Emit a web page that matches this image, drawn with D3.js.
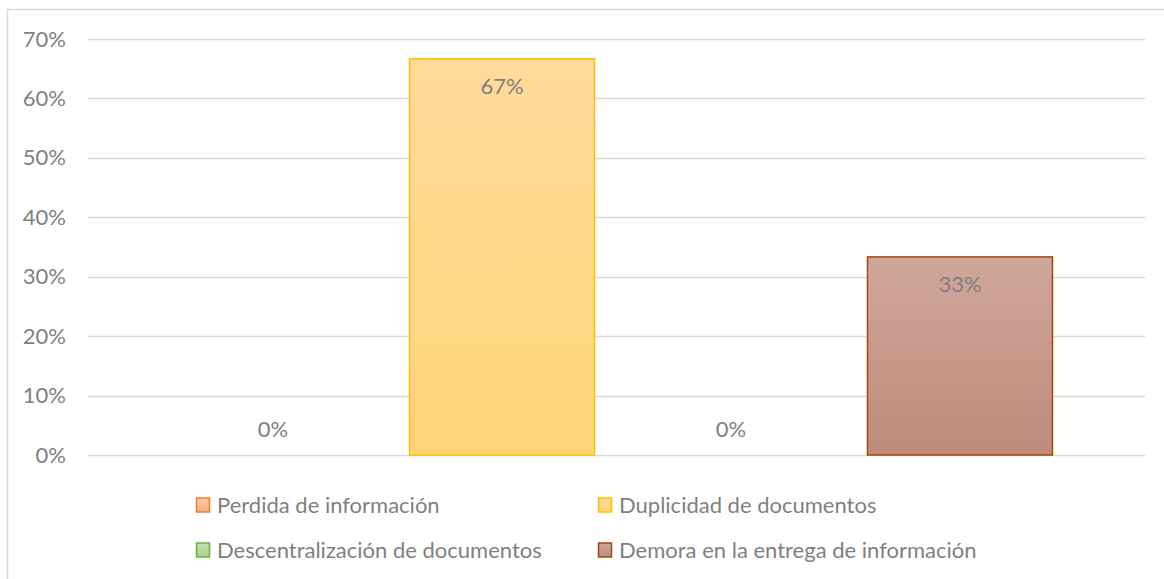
<!DOCTYPE html>
<html>
<head>
<meta charset="utf-8">
<script src="https://cdn.jsdelivr.net/npm/d3@7"></script>
<style>
  html, body { margin: 0; padding: 0; background: #fff; }
  svg { display: block; font-family: Lato, "Open Sans", sans-serif; }
</style>
</head>
<body>
<svg id="chart" width="1164" height="579"></svg>
<script>
// chart data
const series = ["Perdida de información", "Duplicidad de documentos", "Descentralización de documentos", "Demora en la entrega de información"];
const values = [0, 0.6667, 0, 0.3333];
const labels = ["0%", "67%", "0%", "33%"];
const yTicks = [0, 0.1, 0.2, 0.3, 0.4, 0.5, 0.6, 0.7];

const strokes = ["#ed7d31", "#ffc000", "#70ad47", "#9e480e"];
const tops = ["#f8cbad", "#ffda9b", "#c5e0b4", "#d0a79d"];
const bottoms = ["#f4b183", "#ffd478", "#a9d18e", "#bf8a79"];

const svg = d3.select("#chart");
const W = 1164, H = 579;

// chart area border (right / bottom fall outside the picture)
svg.append("path")
  .attr("d", `M7.5,${H} V9.5 H${W}`)
  .attr("fill", "none")
  .attr("stroke", "#d9d9d9")
  .attr("stroke-width", 1.5);

const plot = { left: 88, right: 1145, top: 39, bottom: 455 };

const y = d3.scaleLinear().domain([0, 0.7]).range([plot.bottom, plot.top]);
const x = d3.scaleBand()
  .domain(series)
  .range([plot.left, plot.right])
  .paddingInner(0.192)
  .paddingOuter(0.404);

const defs = svg.append("defs");
series.forEach(function(s, i) {
  const g = defs.append("linearGradient")
    .attr("id", "grad" + i)
    .attr("x1", 0).attr("y1", 0).attr("x2", 0).attr("y2", 1);
  g.append("stop").attr("offset", "0%").attr("stop-color", tops[i]);
  g.append("stop").attr("offset", "100%").attr("stop-color", bottoms[i]);
});

// gridlines
svg.append("g")
  .selectAll("line")
  .data(yTicks)
  .enter()
  .append("line")
    .attr("x1", plot.left)
    .attr("x2", plot.right)
    .attr("y1", d => Math.round(y(d)) + 0.5)
    .attr("y2", d => Math.round(y(d)) + 0.5)
    .attr("stroke", "#d9d9d9")
    .attr("stroke-width", 1.5);

// y axis labels
const yAxis = d3.axisLeft(y)
  .tickValues(yTicks)
  .tickFormat(d3.format(".0%"))
  .tickSize(0)
  .tickPadding(22);

svg.append("g")
  .attr("transform", `translate(${plot.left},0)`)
  .call(yAxis)
  .call(g => g.select(".domain").remove())
  .selectAll("text")
    .attr("fill", "#7f7f7f")
    .style("font-size", "22px")
    .style("font-family", "Lato, 'Open Sans', sans-serif");

// bars
svg.append("g")
  .selectAll("rect")
  .data(series)
  .enter()
  .append("rect")
    .filter(function(d, i) { return values[i] > 0; })
    .attr("x", d => x(d))
    .attr("y", d => y(values[series.indexOf(d)]))
    .attr("width", x.bandwidth())
    .attr("height", d => y(0) - y(values[series.indexOf(d)]))
    .attr("fill", d => `url(#grad${series.indexOf(d)})`)
    .attr("stroke", d => strokes[series.indexOf(d)])
    .attr("stroke-width", 1.5);

// data labels
svg.append("g")
  .selectAll("text")
  .data(series)
  .enter()
  .append("text")
    .attr("x", d => x(d) + x.bandwidth() / 2)
    .attr("y", function(d, i) {
      return values[i] > 0 ? y(values[i]) + 35 : y(0) - 18;
    })
    .attr("text-anchor", "middle")
    .attr("fill", "#7f7f7f")
    .style("font-size", "22px")
    .text((d, i) => labels[i]);

// legend, 2 columns
const legendCols = [196, 598];
const legendRows = [505, 550];
const legend = svg.append("g")
  .selectAll("g")
  .data(series)
  .enter()
  .append("g")
    .attr("transform", (d, i) => `translate(${legendCols[i % 2]},${legendRows[Math.floor(i / 2)]})`);

legend.append("rect")
  .attr("x", 0.5)
  .attr("y", -7)
  .attr("width", 13)
  .attr("height", 14)
  .attr("fill", (d, i) => `url(#grad${i})`)
  .attr("stroke", (d, i) => strokes[i])
  .attr("stroke-width", 1.5);

legend.append("text")
  .attr("x", 21)
  .attr("y", 8)
  .attr("fill", "#7f7f7f")
  .style("font-size", "22px")
  .text(d => d);
</script>
</body>
</html>
